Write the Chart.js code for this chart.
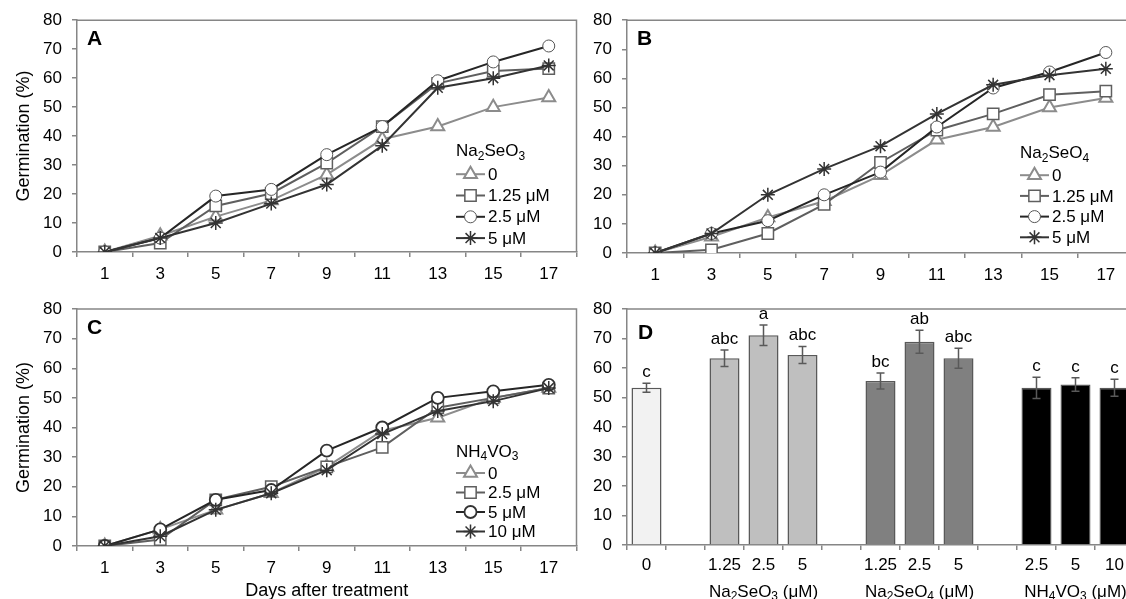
<!DOCTYPE html>
<html>
<head>
<meta charset="utf-8">
<script src="https://cdn.jsdelivr.net/npm/chart.js@4.4.1/dist/chart.umd.min.js"></script>
<style>
  html, body { margin: 0; padding: 0; background: #fff; overflow: hidden; width: 1126px; height: 599px; }
  .panel { position: absolute; }
</style>
</head>
<body>
<div class="panel" style="left:0;top:0;width:586px;height:300px"><canvas id="chartA"></canvas></div>
<div class="panel" style="left:586px;top:0;width:560px;height:300px"><canvas id="chartB"></canvas></div>
<div class="panel" style="left:0;top:282px;width:586px;height:317px"><canvas id="chartC"></canvas></div>
<div class="panel" style="left:586px;top:282px;width:560px;height:317px"><canvas id="chartD"></canvas></div>
<script>
// data (germination %, per day after treatment)
const days = ["1", "3", "5", "7", "9", "11", "13", "15", "17"];
const control = [0, 5.6, 12.2, 17.8, 26.7, 38.9, 43.3, 50.0, 53.3];

// Na2SeO3
const selenite125 = [0, 3.1, 15.9, 20.2, 30.7, 43.3, 58.2, 62.5, 63.3];
const selenite25 = [0, 4.8, 19.3, 21.6, 33.6, 43.3, 59.1, 65.6, 71.1];
const selenite5 = [0, 4.8, 10.0, 16.7, 23.3, 36.7, 56.7, 60.0, 64.4];

// Na2SeO4
const selenate125 = [0, 1.1, 6.7, 16.7, 31.1, 42.2, 47.8, 54.4, 55.6];
const selenate25 = [0, 6.7, 11.1, 20.0, 27.8, 43.3, 56.7, 62.2, 68.9];
const selenate5 = [0, 6.7, 20.0, 28.9, 36.7, 47.8, 57.8, 61.1, 63.3];

// NH4VO3
const vanadate25 = [0, 2.2, 15.6, 20.0, 26.7, 33.3, 46.7, 50.0, 53.3];
const vanadate5 = [0, 5.6, 15.6, 18.9, 32.2, 40.0, 50.0, 52.2, 54.4];
const vanadate10 = [0, 3.3, 12.2, 17.8, 25.6, 37.8, 45.6, 48.9, 53.3];

// panel D, final germination
const barLabels = ["0", "", "1.25", "2.5", "5", "", "1.25", "2.5", "5", "", "2.5", "5", "10"];
const barMeans = [53.3, null, 63.3, 71.1, 64.4, null, 55.6, 68.9, 63.3, null, 53.3, 54.4, 53.3];
const barErrors = [1.5, null, 2.8, 3.5, 2.9, null, 2.7, 3.9, 3.4, null, 3.6, 2.3, 2.9];
const barLetters = ["c", "", "abc", "a", "abc", "", "bc", "ab", "abc", "", "c", "c", "c"];
const groupNames = ["Na2SeO3 (μM)", "Na2SeO4 (μM)", "NH4VO3 (μM)"];

const FONT = '"Liberation Sans", Arial, sans-serif';
const AXIS = "#868686";

// digits right after a letter are drawn as subscripts
function chemParts(text) {
  const parts = [];
  let prev = "";
  for (const ch of text) {
    const sub = /[0-9]/.test(ch) && /[A-Za-z]/.test(prev);
    const last = parts[parts.length - 1];
    if (last && last.sub === sub) last.t += ch;
    else parts.push({ t: ch, sub: sub });
    prev = ch;
  }
  return parts;
}

function drawChem(ctx, text, x, y, size, align) {
  const parts = chemParts(text);
  const fontOf = (p) => (p.sub ? Math.round(size * 0.68) : size) + "px " + FONT;
  let w = 0;
  parts.forEach((p) => { ctx.font = fontOf(p); w += ctx.measureText(p.t).width; });
  let cx = align === "center" ? x - w / 2 : x;
  ctx.textAlign = "left";
  ctx.textBaseline = "middle";
  parts.forEach((p) => {
    ctx.font = fontOf(p);
    ctx.fillText(p.t, cx, p.sub ? y + size * 0.3 : y);
    cx += ctx.measureText(p.t).width;
  });
}

const framePlugin = {
  id: "frame",
  beforeDatasetsDraw(chart) {
    const { ctx, chartArea: a } = chart;
    ctx.save();
    ctx.strokeStyle = AXIS;
    ctx.lineWidth = 1.5;
    ctx.beginPath();
    ctx.moveTo(a.left, a.top);
    ctx.lineTo(a.right, a.top);
    ctx.lineTo(a.right, a.bottom);
    ctx.stroke();
    ctx.restore();
  }
};

const panelPlugin = {
  id: "panel",
  afterDatasetsDraw(chart, args, opts) {
    const { ctx, chartArea: a } = chart;
    ctx.save();
    ctx.fillStyle = "#000";
    ctx.font = "bold 21px " + FONT;
    ctx.textAlign = "left";
    ctx.textBaseline = "middle";
    ctx.fillText(opts.letter, a.left + 10, a.top + 19);
    if (opts.legendTitle) {
      const x0 = a.left + opts.legendX;
      const y0 = a.top + opts.legendY;
      drawChem(ctx, opts.legendTitle, x0, y0, 17, "left");
      chart.data.datasets.forEach((ds, i) => {
        const y = y0 + opts.firstGap + opts.rowGap * i;
        ctx.strokeStyle = ds.borderColor;
        ctx.lineWidth = ds.borderWidth;
        ctx.beginPath();
        ctx.moveTo(x0, y);
        ctx.lineTo(x0 + 29, y);
        ctx.stroke();
        ctx.strokeStyle = ds.pointBorderColor;
        ctx.fillStyle = ds.pointBackgroundColor;
        ctx.lineWidth = ds.pointBorderWidth;
        Chart.helpers.drawPoint(ctx, { pointStyle: ds.pointStyle, radius: ds.pointRadius, borderWidth: ds.pointBorderWidth, rotation: 0 }, x0 + 14.5, y);
        ctx.fillStyle = "#000";
        ctx.font = "17px " + FONT;
        ctx.textAlign = "left";
        ctx.textBaseline = "middle";
        ctx.fillText(ds.label, x0 + 32, y + 1);
      });
    }
    ctx.restore();
  }
};

function series(label, data, kind, panelC) {
  const styles = {
    control: { line: "#8c8c8c", point: "triangle", r: 7.5, pc: "#8c8c8c", pw: 2, order: 3 },
    low: { line: "#5f5f5f", point: "rect", r: 8, pc: "#5f5f5f", pw: 1.5, order: 2 },
    mid: { line: "#262626", point: "circle", r: 6, pc: panelC ? "#333" : "#555", pw: panelC ? 1.8 : 1, order: 1 },
    high: { line: "#333333", point: "star", r: 7, pc: "#333", pw: 1.5, order: 0 }
  };
  const s = styles[kind];
  return {
    label: label,
    data: data,
    borderColor: s.line,
    borderWidth: 2,
    pointStyle: s.point,
    pointRadius: s.r,
    pointBorderColor: s.pc,
    pointBorderWidth: s.pw,
    pointBackgroundColor: "#fff",
    tension: 0,
    order: s.order
  };
}

function yScale(width, withTitle) {
  return {
    min: 0,
    max: 80,
    ticks: { stepSize: 10, padding: 10, color: "#000", font: { family: FONT, size: 17 } },
    grid: { drawOnChartArea: false, tickLength: 5, color: AXIS, lineWidth: 1.5 },
    border: { color: AXIS, width: 1.5 },
    title: {
      display: withTitle,
      text: "Germination (%)",
      color: "#000",
      font: { family: FONT, size: 18 },
      padding: { top: 13, bottom: 0 }
    },
    afterFit(scale) { scale.width = width; }
  };
}

function xScale(height, withTitle) {
  return {
    type: "category",
    offset: true,
    ticks: { padding: 7, color: "#000", font: { family: FONT, size: 17 }, autoSkip: false, maxRotation: 0 },
    grid: { offset: true, drawOnChartArea: false, tickLength: 5, color: AXIS, lineWidth: 1.5 },
    border: { color: AXIS, width: 1.5 },
    title: {
      display: withTitle,
      text: "Days after treatment",
      color: "#000",
      font: { family: FONT, size: 18, lineHeight: 0.85 },
      padding: { top: 0, bottom: 0 }
    },
    afterFit(scale) { scale.height = height; }
  };
}

function lineChart(id, datasets, cfg) {
  return new Chart(document.getElementById(id), {
    type: "line",
    data: { labels: days, datasets: datasets },
    options: {
      responsive: true,
      maintainAspectRatio: false,
      animation: false,
      layout: { padding: cfg.padding },
      scales: {
        x: xScale(cfg.xHeight, cfg.xTitle),
        y: yScale(cfg.yWidth, cfg.yTitle)
      },
      plugins: {
        legend: { display: false },
        tooltip: { enabled: false },
        panel: cfg.panel
      }
    },
    plugins: [framePlugin, panelPlugin]
  });
}

lineChart("chartA", [
  series("0", control, "control"),
  series("1.25 μM", selenite125, "low"),
  series("2.5 μM", selenite25, "mid"),
  series("5 μM", selenite5, "high")
], {
  padding: { left: 0, top: 19, right: 4, bottom: 0 },
  xHeight: 48, yWidth: 77, xTitle: false, yTitle: true,
  panel: { letter: "A", legendTitle: "Na2SeO3", legendX: 379, legendY: 131, firstGap: 23, rowGap: 21.3 }
});

lineChart("chartB", [
  series("0", control, "control"),
  series("1.25 μM", selenate125, "low"),
  series("2.5 μM", selenate25, "mid"),
  series("5 μM", selenate5, "high")
], {
  padding: { left: 0, top: 19, right: 12, bottom: 0 },
  xHeight: 47, yWidth: 41, xTitle: false, yTitle: false,
  panel: { letter: "B", legendTitle: "Na2SeO4", legendX: 393, legendY: 133, firstGap: 22, rowGap: 20.7 }
});

lineChart("chartC", [
  series("0", control, "control", true),
  series("2.5 μM", vanadate25, "low", true),
  series("5 μM", vanadate5, "mid", true),
  series("10 μM", vanadate10, "high", true)
], {
  padding: { left: 0, top: 27, right: 4, bottom: 0 },
  xHeight: 53, yWidth: 77, xTitle: true, yTitle: true,
  panel: { letter: "C", legendTitle: "NH4VO3", legendX: 379, legendY: 143, firstGap: 21, rowGap: 19.5 }
});

// error bars, letters and group names for panel D
const barExtrasPlugin = {
  id: "barExtras",
  afterDatasetsDraw(chart, args, opts) {
    const { ctx, scales } = chart;
    const x = scales.x, y = scales.y;
    ctx.save();
    barMeans.forEach((v, i) => {
      if (v === null) return;
      const px = x.getPixelForValue(i);
      const top = y.getPixelForValue(v + barErrors[i]);
      const bot = y.getPixelForValue(v - barErrors[i]);
      ctx.strokeStyle = "#595959";
      ctx.lineWidth = 1.5;
      ctx.beginPath();
      ctx.moveTo(px, top); ctx.lineTo(px, bot);
      ctx.moveTo(px - 4, top); ctx.lineTo(px + 4, top);
      ctx.moveTo(px - 4, bot); ctx.lineTo(px + 4, bot);
      ctx.stroke();
      ctx.fillStyle = "#000";
      ctx.font = "17px " + FONT;
      ctx.textAlign = "center";
      ctx.textBaseline = "alphabetic";
      ctx.fillText(barLetters[i], px, top - 6);
    });
    ctx.fillStyle = "#000";
    groupNames.forEach((name, g) => {
      const px = x.getPixelForValue(opts.groupCenters[g]);
      drawChem(ctx, name, px, chart.chartArea.bottom + 47, 17, "center");
    });
    ctx.font = "bold 21px " + FONT;
    ctx.textAlign = "left";
    ctx.textBaseline = "middle";
    ctx.fillText("D", chart.chartArea.left + 11, chart.chartArea.top + 24);
    ctx.restore();
  }
};

const barFill = ["#f2f2f2", "#fff", "#bfbfbf", "#bfbfbf", "#bfbfbf", "#fff",
  "#808080", "#808080", "#808080", "#fff", "#000000", "#000000", "#000000"];

new Chart(document.getElementById("chartD"), {
  type: "bar",
  data: {
    labels: barLabels,
    datasets: [{
      data: barMeans,
      backgroundColor: barFill,
      borderColor: "#595959",
      borderWidth: 1.5,
      barPercentage: 0.77,
      categoryPercentage: 1
    }]
  },
  options: {
    responsive: true,
    maintainAspectRatio: false,
    animation: false,
    layout: { padding: { left: 0, top: 27, right: 12, bottom: 0 } },
    scales: {
      x: {
        ticks: { padding: 5, color: "#000", font: { family: FONT, size: 17 }, autoSkip: false, maxRotation: 0 },
        grid: { offset: true, drawOnChartArea: false, tickLength: 5, color: AXIS, lineWidth: 1.5 },
        border: { color: AXIS, width: 1.5 },
        afterFit(scale) { scale.height = 54; }
      },
      y: yScale(41, false)
    },
    plugins: {
      legend: { display: false },
      tooltip: { enabled: false },
      barExtras: { groupCenters: [3, 7, 11] }
    }
  },
  plugins: [framePlugin, barExtrasPlugin]
});
</script>
</body>
</html>
